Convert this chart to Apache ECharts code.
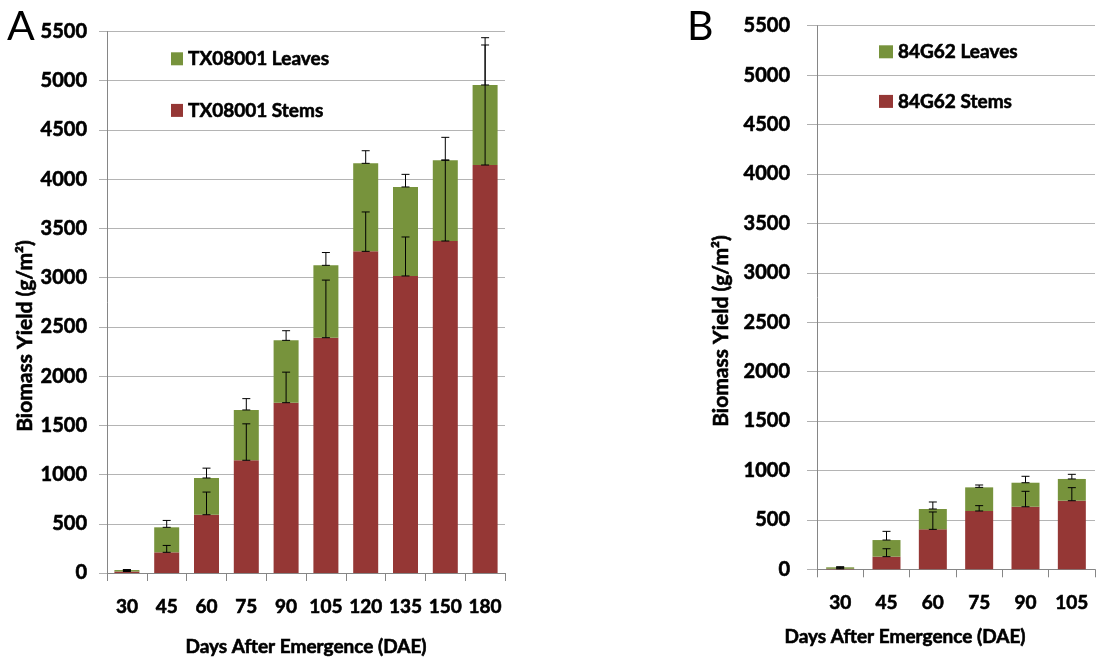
<!DOCTYPE html>
<html><head><meta charset="utf-8">
<script src="https://cdn.jsdelivr.net/npm/echarts@6/dist/echarts.min.js"></script>
<style>html,body{margin:0;padding:0;background:#fff}#c{width:1112px;height:660px}</style>
</head><body><div id="c"></div>
<script>
// Panel A data (TX08001)
const catsA = ['30','45','60','75','90','105','120','135','150','180'];
const stemsA = [15, 210, 592, 1145, 1730, 2390, 3267, 3017, 3372, 4144];
const leavesA = [15, 254, 373, 511, 633, 735, 894, 904, 820, 813];
const stemErrA = [10, 70, 230, 370, 310, 585, 400, 396, 823, 1219];
const totalErrA = [5, 70, 100, 115, 98, 130, 128, 128, 233, 480];
// Panel B data (84G62)
const catsB = ['30','45','60','75','90','105'];
const stemsB = [5, 128, 404, 590, 633, 694];
const leavesB = [15, 168, 206, 239, 243, 220];
const stemErrB = [8, 80, 176, 54, 156, 132];
const totalErrB = [6, 88, 71, 24, 65, 47];

const GREEN = '#77933C', RED = '#953735';
const FONT = 'Lato';
const chart = echarts.init(document.getElementById('c'));

function errData(stems, leaves, sErr, tErr) {
  const d = [];
  stems.forEach((s, i) => {
    d.push([i, s, sErr[i]]);
    d.push([i, s + leaves[i], tErr[i]]);
  });
  return d;
}
function errRender(capHalf) {
  return function (params, api) {
    const i = api.value(0), b = api.value(1), e = api.value(2);
    const p0 = api.coord([i, b]), p1 = api.coord([i, b + e]);
    const st = { stroke: '#000', lineWidth: 1 };
    return { type: 'group', children: [
      { type: 'line', shape: { x1: p0[0], y1: p0[1], x2: p1[0], y2: p1[1] }, style: st },
      { type: 'line', shape: { x1: p0[0]-capHalf, y1: p0[1], x2: p0[0]+capHalf, y2: p0[1] }, style: st },
      { type: 'line', shape: { x1: p1[0]-capHalf, y1: p1[1], x2: p1[0]+capHalf, y2: p1[1] }, style: st }
    ]};
  };
}
const heavy = { textBorderColor: '#000', textBorderWidth: 0.6 };
const lblStyle = Object.assign({ color: '#000', fontFamily: FONT, fontWeight: 'bold', fontSize: 19 }, heavy);
function yAxis(gi, tickLen, margin) {
  return { type: 'value', gridIndex: gi, min: 0, max: 5500, interval: 500,
    axisLine: { show: true, lineStyle: { color: '#868686' } },
    axisTick: { show: true, length: tickLen, lineStyle: { color: '#b0b0b0' } },
    splitLine: { lineStyle: { color: '#b4b4b4' } },
    axisLabel: Object.assign({}, lblStyle, { margin: margin, fontSize: 20, formatter: v => String(v) }) };
}
function xAxis(gi, cats, margin) {
  return { type: 'category', gridIndex: gi, data: cats,
    axisLine: { lineStyle: { color: '#868686' } },
    axisTick: { show: true, length: 8, alignWithLabel: false, lineStyle: { color: '#868686' } },
    axisLabel: Object.assign({ margin: margin, interval: 0 }, lblStyle) };
}
const titleFont = 'bold 21px Lato';
const option = {
  animation: false,
  textStyle: { fontFamily: FONT },
  grid: [
    { left: 107, right: 607, top: 31.5, bottom: 87 },
    { left: 817, right: 17, top: 25.7, bottom: 90.7 }
  ],
  xAxis: [xAxis(0, catsA, 24), xAxis(1, catsB, 24)],
  yAxis: [yAxis(0, 8, 20), yAxis(1, 10, 27)],
  legend: [
    { data: ['TX08001 Leaves', 'TX08001 Stems'], orient: 'vertical', left: 171, top: 49, padding: 0,
      itemWidth: 12, itemHeight: 13, itemGap: 32, icon: 'rect', textStyle: Object.assign({}, lblStyle, { fontSize: 19 }) },
    { data: ['84G62 Leaves', '84G62 Stems'], orient: 'vertical', left: 879, top: 42, padding: 0,
      itemWidth: 14, itemHeight: 13, itemGap: 30, icon: 'rect', textStyle: Object.assign({}, lblStyle, { fontSize: 19 }) }
  ],
  graphic: [
    { type: 'text', left: 7, top: 6, style: { text: 'A', font: '41px Lato', fill: '#000' } },
    { type: 'text', left: 687, top: 6, style: { text: 'B', font: '41px Lato', fill: '#000' } },
    { type: 'text', x: 25, y: 336, rotation: Math.PI / 2,
      style: { text: 'Biomass Yield (g/m²)', font: titleFont, fill: '#000', stroke: '#000', lineWidth: 0.6, align: 'center', verticalAlign: 'middle' } },
    { type: 'text', x: 721, y: 331, rotation: Math.PI / 2,
      style: { text: 'Biomass Yield (g/m²)', font: titleFont, fill: '#000', stroke: '#000', lineWidth: 0.6, align: 'center', verticalAlign: 'middle' } },
    { type: 'text', x: 306, y: 647,
      style: { text: 'Days After Emergence (DAE)', font: 'bold 19px Lato', fill: '#000', stroke: '#000', lineWidth: 0.6, align: 'center', verticalAlign: 'middle' } },
    { type: 'text', x: 905, y: 637,
      style: { text: 'Days After Emergence (DAE)', font: 'bold 19px Lato', fill: '#000', stroke: '#000', lineWidth: 0.6, align: 'center', verticalAlign: 'middle' } }
  ],
  series: [
    { name: 'TX08001 Stems', type: 'bar', stack: 'a', xAxisIndex: 0, yAxisIndex: 0, barWidth: 25, itemStyle: { color: RED }, data: stemsA },
    { name: 'TX08001 Leaves', type: 'bar', stack: 'a', xAxisIndex: 0, yAxisIndex: 0, barWidth: 25, itemStyle: { color: GREEN }, data: leavesA },
    { type: 'custom', xAxisIndex: 0, yAxisIndex: 0, z: 5, renderItem: errRender(4), encode: { x: 0, y: 1 },
      data: errData(stemsA, leavesA, stemErrA, totalErrA), silent: true },
    { name: '84G62 Stems', type: 'bar', stack: 'b', xAxisIndex: 1, yAxisIndex: 1, barWidth: 28, itemStyle: { color: RED }, data: stemsB },
    { name: '84G62 Leaves', type: 'bar', stack: 'b', xAxisIndex: 1, yAxisIndex: 1, barWidth: 28, itemStyle: { color: GREEN }, data: leavesB },
    { type: 'custom', xAxisIndex: 1, yAxisIndex: 1, z: 5, renderItem: errRender(4), encode: { x: 0, y: 1 },
      data: errData(stemsB, leavesB, stemErrB, totalErrB), silent: true }
  ]
};
chart.setOption(option);
</script></body></html>
